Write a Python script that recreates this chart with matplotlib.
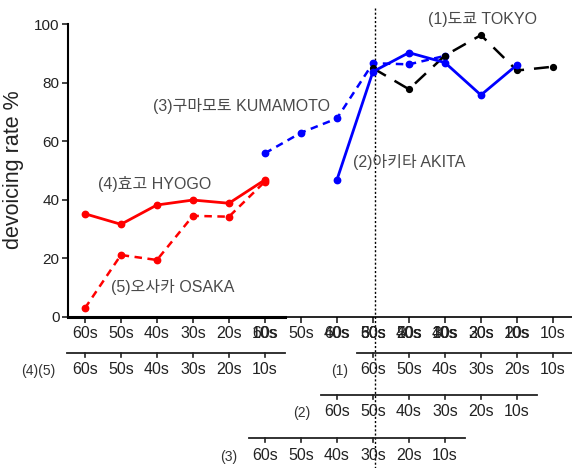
import matplotlib
matplotlib.use('Agg')
import matplotlib.pyplot as plt
from matplotlib.transforms import blended_transform_factory

plt.rcParams['font.family'] = ['Liberation Sans', 'Noto Sans CJK KR', 'DejaVu Sans']

# --- data -------------------------------------------------------------
decades = ['60s', '50s', '40s', '30s', '20s', '10s']

# each region: 6 decades, placed from a start slot on the shared x axis
hyogo_start, hyogo = 0, [35.2, 31.6, 38.2, 39.9, 38.8, 46.8]
osaka_start, osaka = 0, [2.9, 21.1, 19.4, 34.5, 34.2, 46.2]
kumamoto_start, kumamoto = 5, [55.9, 62.9, 67.8, 86.7, 86.3, 89.2]
akita_start, akita = 7, [46.8, 83.8, 90.3, 86.9, 75.8, 86.1]
tokyo_start, tokyo = 8, [85.0, 77.8, 89.3, 96.3, 84.2, 85.5]

# secondary label rows: (tag, start slot, line y px, label y px, tag x px)
rows = [
    ('(4)(5)', 0, 353, 370, 38),
    ('(1)', 8, 353, 370, 340),
    ('(2)', 7, 395, 412, 302),
    ('(3)', 5, 438, 456, 229),
]

W, H = 572, 468
fig = plt.figure(figsize=(W / 100, H / 100), dpi=100)
ax = fig.add_axes([68 / W, 1 - 316.7 / H, (W - 68) / W, (316.7 - 24.3) / H])


def xs(start, n=6):
    return [start + i for i in range(n)]


ms = 4.6
ax.plot(xs(hyogo_start), hyogo, color='#ff0000', lw=2, marker='o', ms=ms,
        clip_on=False, zorder=3)
ax.plot(xs(osaka_start), osaka, color='#ff0000', lw=1.8, ls=(0, (3, 2.2)),
        marker='o', ms=ms, clip_on=False, zorder=3)
ax.plot(xs(kumamoto_start), kumamoto, color='#0000ff', lw=1.8, ls=(0, (3, 2.2)),
        marker='o', ms=ms, clip_on=False, zorder=3)
ax.plot(xs(akita_start), akita, color='#0000ff', lw=2, marker='o', ms=ms,
        clip_on=False, zorder=4)
ax.plot(xs(tokyo_start), tokyo, color='black', lw=1.8, ls=(0, (6, 4)),
        marker='o', ms=4.2, clip_on=False, zorder=3)

ax.set_xlim(-0.47, 13.53)
ax.set_ylim(0, 100)
ax.set_yticks([0, 20, 40, 60, 80, 100])
ax.tick_params(axis='y', labelsize=11, length=4, width=1.2, colors='#222222', pad=2)
ax.set_xticks(range(14))
ax.set_xticklabels([])
ax.tick_params(axis='x', length=4, width=1.2, colors='#222222')
for s in ['top', 'right']:
    ax.spines[s].set_visible(False)
ax.spines['left'].set_linewidth(1.5)
ax.spines['bottom'].set_linewidth(1.2)
ax.plot([-0.47, 5.55], [0, 0], color='black', lw=2.2, clip_on=False, zorder=2)

fig.text(14 / W, 1 - 170 / H, 'devoicing rate %', rotation=90, ha='center',
         va='center', fontsize=15.5, color='#222222')

# region names
txt = dict(fontsize=11.5, color='#4a4a4a', va='center', ha='left')
ax.text(9.53, 101.5, '(1)도쿄 TOKYO', **txt)
ax.text(7.44, 52.9, '(2)아키타 AKITA', **txt)
ax.text(1.89, 72.1, '(3)구마모토 KUMAMOTO', **txt)
ax.text(0.36, 45.4, '(4)효고 HYOGO', **txt)
ax.text(0.72, 10.2, '(5)오사카 OSAKA', **txt)

# x in data, y in figure pixels from top
tr = blended_transform_factory(ax.transData, fig.transFigure)


def fy(py):
    return 1 - py / H


# overlapping decade labels on the main axis
for tag, start, ly, ty, tx in rows:
    for i, d in enumerate(decades):
        ax.text(start + i, fy(333), d, transform=tr, ha='center', va='center',
                fontsize=11.5, color='#222222')

# separate decade axes below
for tag, start, ly, ty, tx in rows:
    x0 = -0.5 if start == 0 else start - 0.45
    ax.plot([x0, start + 5.55], [fy(ly), fy(ly)], color='#222222', lw=1.3,
            transform=tr, clip_on=False)
    for i, d in enumerate(decades):
        ax.plot([start + i, start + i], [fy(ly), fy(ly + 4)], color='#222222',
                lw=1.2, transform=tr, clip_on=False)
        ax.text(start + i, fy(ty), d, transform=tr, ha='center', va='center',
                fontsize=11.5, color='#222222')
    fig.text(tx / W, fy(ty + 1), tag, ha='center', va='center', fontsize=10,
             color='#333333')

# dotted divider through the 30s/50s/60s slot
ax.plot([8.05, 8.05], [fy(8), fy(468)], color='black', lw=1, ls=(0, (1.5, 1.5)),
        transform=tr, clip_on=False, zorder=1)

fig.savefig('out.png', dpi=100)
